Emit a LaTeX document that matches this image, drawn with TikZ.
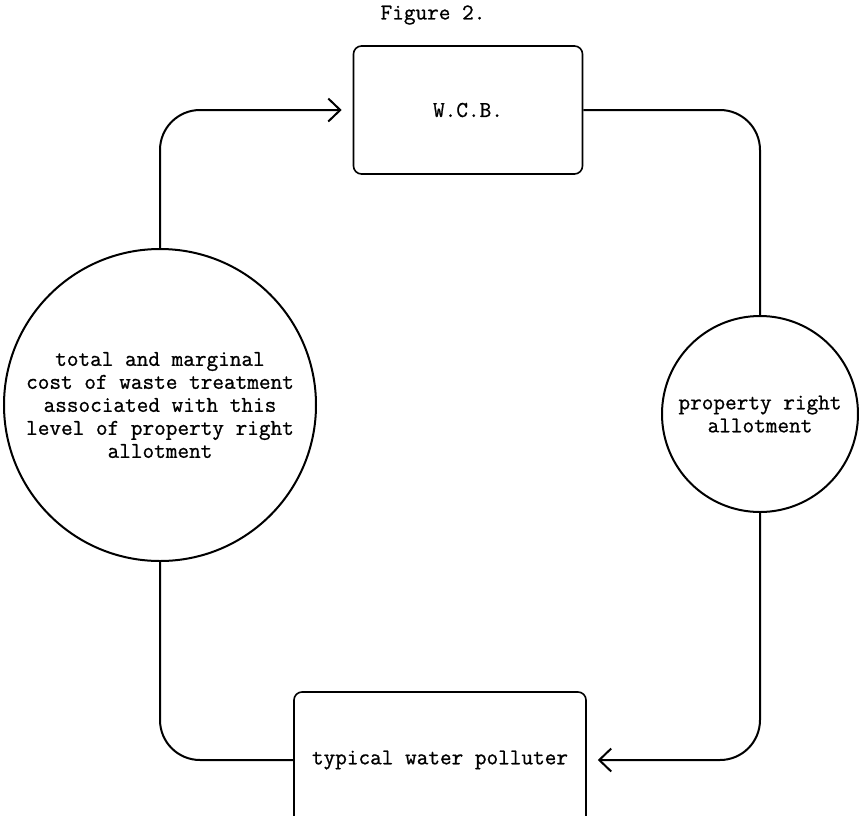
\documentclass[tikz,border=0pt]{standalone}
\usepackage{fontspec}
\setmonofont{Latin Modern Mono}[FakeBold=0.9]
\usetikzlibrary{arrows.meta}
\begin{document}
\begin{tikzpicture}[x=0.5pt,y=-0.5pt,line width=1pt,
    every node/.style={font=\ttfamily\fontsize{11.3}{11.5}\selectfont,align=center},
    block/.style={draw,line width=0.8pt,rounded corners=4pt,inner sep=0pt},
    bubble/.style={draw,circle,inner sep=0pt},
    flow/.style={rounded corners=20pt},
    tip/.style={-{Straight Barb[length=6pt,width=11.5pt]},shorten >=5.5pt}]
  \useasboundingbox (0,0) rectangle (859,816);
  \clip (0,0) rectangle (859,816);

  \node (fig) at (433,15) {Figure 2.};

  \begin{scope}
    \node[block,minimum width=114.5pt,minimum height=64pt] (wcb) at (468,110) {W.C.B.};
    \node[block,minimum width=146pt,minimum height=68pt] (polluter) at (440,760) {typical water polluter};
    \node[bubble,minimum size=156pt] (cost) at (160,405) {total and marginal\\cost of waste treatment\\associated with this\\level of property right\\allotment};
    \node[bubble,minimum size=98pt] (allot) at (760,414) {property right\\allotment};
  \end{scope}

  \draw[flow,tip] (cost.north) |- (wcb.west);
  \draw[flow] (wcb.east) -| (allot.north);
  \draw[flow,tip] (allot.south) |- (polluter.east);
  \draw[flow] (cost.south) |- (polluter.west);
\end{tikzpicture}
\end{document}
